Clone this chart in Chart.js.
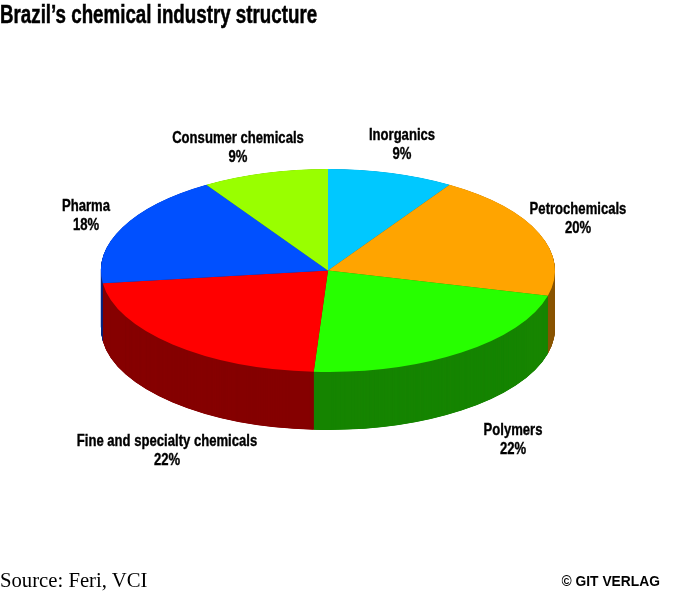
<!DOCTYPE html>
<html lang="en">
<head>
  <meta charset="UTF-8">
  <title>Brazil's chemical industry structure</title>
  <style>
    html, body { margin: 0; padding: 0; background: #fff; }
    #wrap { position: relative; width: 674px; height: 593px; overflow: hidden; color: #000; }
    #chartCanvas { position: absolute; left: 0; top: 0; display: block; }
    #title, #source, #credit { position: absolute; white-space: nowrap; }
    #title { left: 0; top: 0; font: bold 25px "Liberation Sans", sans-serif; -webkit-text-stroke: 0.5px #000; transform: scaleX(0.75); transform-origin: left top; }
    #source { left: 0; top: 569px; font: 20px "Liberation Serif", serif; transform: scaleX(1.035); transform-origin: left top; }
    #credit { right: 14px; top: 572px; font: bold 15px "Liberation Sans", sans-serif; transform: scaleX(0.92); transform-origin: right top; }
  </style>
  <script src="https://cdn.jsdelivr.net/npm/chart.js"></script>
</head>
<body>
  <div id="wrap">
    <canvas id="chartCanvas" width="674" height="593"></canvas>
    <div id="title">Brazil’s chemical industry structure</div>
    <div id="source">Source: Feri, VCI</div>
    <div id="credit">© GIT VERLAG</div>
  </div>

  <script>
    const categories = ["Inorganics", "Petrochemicals", "Polymers", "Fine and specialty chemicals", "Pharma", "Consumer chemicals"];
    const shares = [9, 20, 22, 22, 18, 9];
    const topColors = ["#00c8ff", "#ffa400", "#27ff00", "#ff0000", "#0050ff", "#99ff00"];
    const sideColors = ["#006a88", "#8a5500", "#178500", "#860000", "#002a88", "#508800"];

    // pie is tilted by squashing the arcs, the rim is the same arcs stacked downwards
    const tilt = 0.447;
    const depth = 58;
    const labelSpots = [[402, 135], [578, 209], [513, 430], [167, 441], [86, 206], [238, 138]];

    function tiltAround(ctx, x, y, dy) {
      ctx.translate(x, y + dy);
      ctx.scale(1, tilt);
      ctx.translate(-x, -y);
    }

    function narrowText(ctx, text, x, y) {
      ctx.save();
      ctx.translate(x, y);
      ctx.scale(0.77, 1);
      ctx.fillText(text, 0, 0);
      ctx.strokeText(text, 0, 0);
      ctx.restore();
    }

    const pie3d = {
      id: "pie3d",
      beforeDatasetsDraw(chart) {
        const ctx = chart.ctx;
        const arcs = chart.getDatasetMeta(0).data;
        const x = arcs[0].x, y = arcs[0].y;
        for (let dy = depth; dy > 0; dy -= 0.25) {
          ctx.save();
          tiltAround(ctx, x, y, dy);
          arcs.forEach((arc, i) => {
            const opts = arc.options;
            arc.options = Object.assign({}, opts, { backgroundColor: sideColors[i] });
            arc.draw(ctx);
            arc.options = opts;
          });
          ctx.restore();
        }
        ctx.save();
        tiltAround(ctx, x, y, 0);
      },
      afterDatasetsDraw(chart) {
        const ctx = chart.ctx;
        ctx.restore();
        ctx.fillStyle = "#000";
        ctx.strokeStyle = "#000";
        ctx.lineWidth = 0.4;
        ctx.textAlign = "center";
        ctx.textBaseline = "middle";
        ctx.font = 'bold 17px "Liberation Sans", sans-serif';
        categories.forEach((name, i) => {
          narrowText(ctx, name, labelSpots[i][0], labelSpots[i][1]);
          narrowText(ctx, shares[i] + "%", labelSpots[i][0], labelSpots[i][1] + 19);
        });
      }
    };

    new Chart(document.getElementById("chartCanvas"), {
      type: "pie",
      data: {
        labels: categories,
        datasets: [{
          data: shares,
          backgroundColor: topColors,
          borderWidth: 0,
          clip: false
        }]
      },
      options: {
        responsive: false,
        devicePixelRatio: 1,
        animation: false,
        radius: 227,
        layout: { padding: { right: 18, bottom: 52 } },
        plugins: {
          legend: { display: false },
          title: { display: false },
          tooltip: { enabled: false }
        }
      },
      plugins: [pie3d]
    });
  </script>
</body>
</html>
